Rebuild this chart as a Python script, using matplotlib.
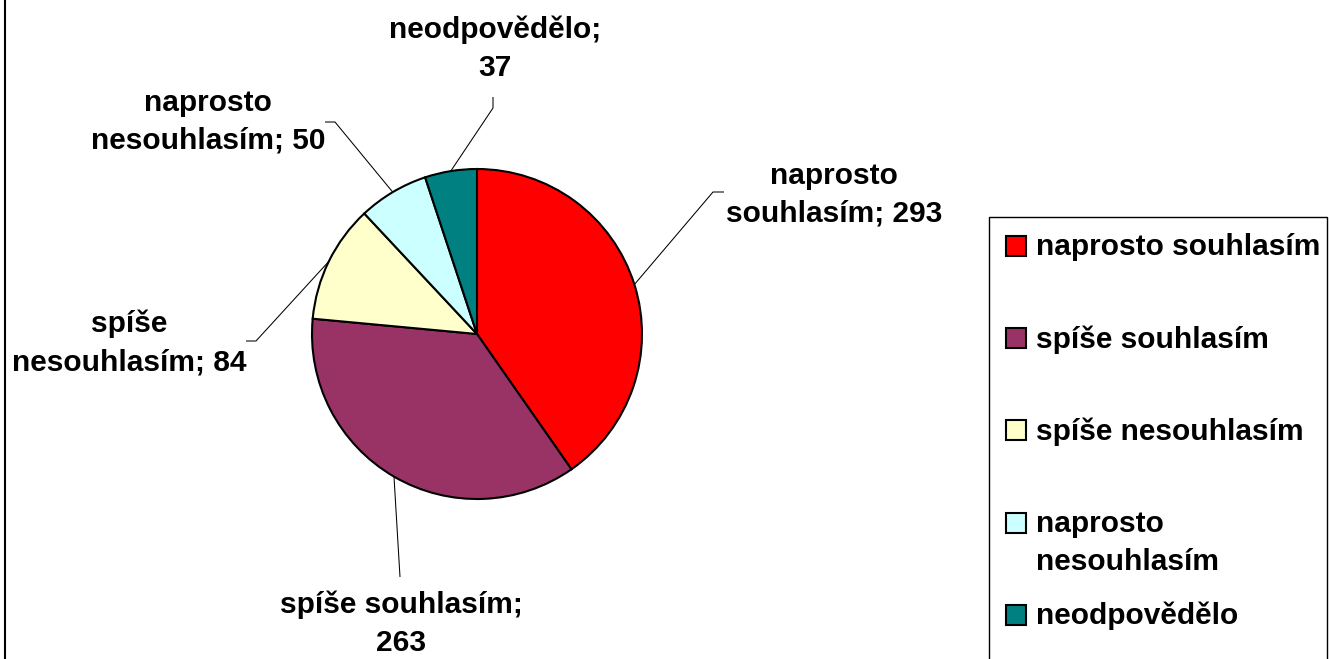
import numpy as np
import matplotlib
matplotlib.use("Agg")
import matplotlib.pyplot as plt
from matplotlib.patches import Rectangle

# ---- data ----
categories = ["naprosto souhlasím", "spíše souhlasím", "spíše nesouhlasím",
              "naprosto nesouhlasím", "neodpovědělo"]
values = [293, 263, 84, 50, 37]
colors = ["#FF0000", "#993366", "#FFFFCC", "#CCFFFF", "#008080"]
pie_labels = ["naprosto\nsouhlasím; 293", "spíše souhlasím;\n263", "spíše\nnesouhlasím; 84",
              "naprosto\nnesouhlasím; 50", "neodpovědělo;\n37"]
legend_labels = ["naprosto souhlasím", "spíše souhlasím", "spíše nesouhlasím",
                 "naprosto\nnesouhlasím", "neodpovědělo"]

# ---- layout (pixel coordinates, y measured from top) ----
W, H = 1329, 659
FONT = "Liberation Sans"
FS = 21.5
LS = 1.45
center = (477, 334)
radius = 165
label_pos = [(834, 195), (401, 624), (129, 343), (208, 122), (495, 49)]
# elbow points for leader lines: (rim-side point, label-side point)
elbows = [((713, 192), (724, 192)),
          ((400, 577), (400, 577)),
          ((256, 341), (246, 341)),
          ((335, 122), (325, 122)),
          ((493, 108), (493, 97))]
legend_box = (989, 217, 1327, 700)
legend_rows = [246, 338, 430, 523, 615]

fig = plt.figure(figsize=(W / 100, H / 100), dpi=100)
ax = fig.add_axes([0, 0, 1, 1])

def Y(y):
    return H - y

wedges, _ = ax.pie(values, colors=colors, startangle=90, counterclock=False,
                   center=(center[0], Y(center[1])), radius=radius,
                   wedgeprops=dict(edgecolor="black", linewidth=1.5))
ax.set_xlim(0, W)
ax.set_ylim(0, H)
ax.set_aspect("equal")
ax.axis("off")

for w, lab, (lx, ly), (e1, e2) in zip(wedges, pie_labels, label_pos, elbows):
    mid = np.deg2rad((w.theta1 + w.theta2) / 2)
    px = center[0] + radius * np.cos(mid)
    py = Y(center[1]) + radius * np.sin(mid)
    ax.plot([px, e1[0], e2[0]], [py, Y(e1[1]), Y(e2[1])], color="black", lw=0.75,
            solid_capstyle="butt")
    ax.text(lx, Y(ly), lab, ha="center", va="center", multialignment="center",
            fontsize=FS, fontweight="bold", family=FONT, linespacing=LS)

# legend box
x0, y0, x1, y1 = legend_box
ax.add_patch(Rectangle((x0, Y(y1)), x1 - x0, y1 - y0, fill=False,
                       edgecolor="black", lw=1.0, clip_on=False))
for lab, col, yy in zip(legend_labels, colors, legend_rows):
    ax.add_patch(Rectangle((1006, Y(yy) - 10), 20, 20, facecolor=col,
                           edgecolor="black", lw=1.5))
    ax.text(1036, Y(yy - 13), lab, ha="left", va="top", fontsize=FS,
            fontweight="bold", family=FONT, linespacing=1.45)

# chart frame left edge
ax.plot([5, 5], [0, H], color="black", lw=1.5)

fig.savefig("out.png", dpi=100)
